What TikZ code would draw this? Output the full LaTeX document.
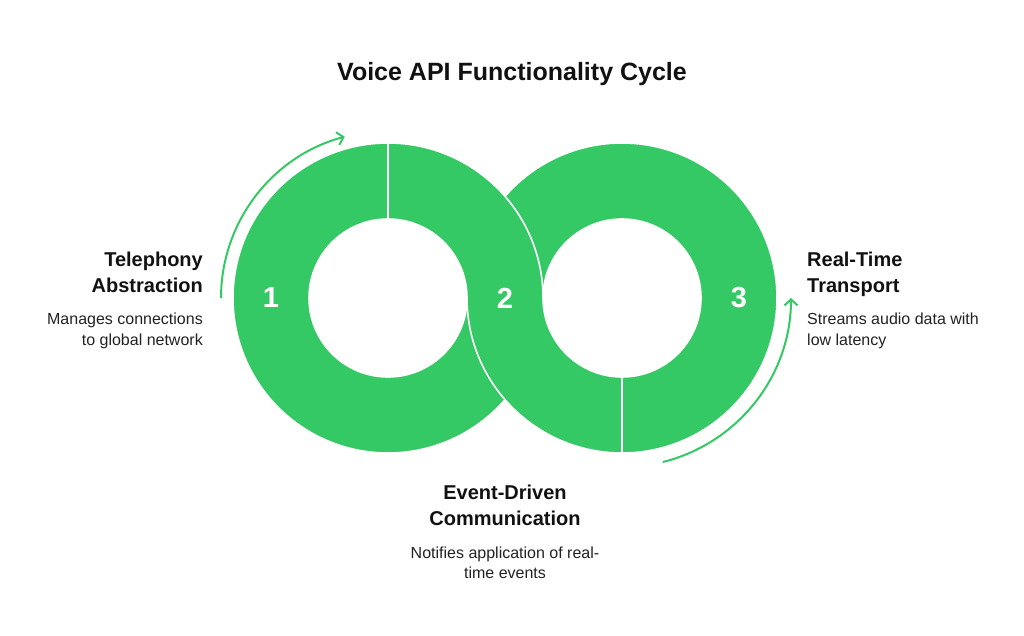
\documentclass[tikz,border=0pt]{standalone}
\usepackage{fontspec}
\setmainfont{Liberation Sans}
\usetikzlibrary{calc,positioning,arrows.meta}
\definecolor{ringgreen}{HTML}{34C964}
\definecolor{headtext}{HTML}{111111}
\definecolor{desctext}{HTML}{222222}

\begin{document}
\begin{tikzpicture}[x=1pt,y=1pt,
  ring/.style={fill=ringgreen,draw=white,line width=1.6pt},
  ringnum/.style={text=white,font=\bfseries\fontsize{29}{29}\selectfont},
  head/.style={text=headtext,font=\bfseries\fontsize{20}{26}\selectfont,inner sep=0pt},
  desc/.style={text=desctext,font=\fontsize{16}{20}\selectfont,inner sep=0pt},
  cyclearrow/.style={draw=ringgreen,line width=2pt,-{Straight Barb[length=6pt,width=13pt]}}]
\useasboundingbox (0,0) rectangle (1024,635);
\coordinate (L) at (388,337);
\coordinate (R) at (622,337);
% rings 1 and 3 first, ring 2 on top
\draw[ring] ($(L)+(0,155)$) arc (90:360:155) -- ++(-76,0) arc (360:90:79) -- cycle;
\draw[ring] ($(R)+(0,-155)$) arc (-90:180:155) -- ++(76,0) arc (180:-90:79) -- cycle;
\draw[ring] ($(L)+(0,155)$) arc (90:0:155) arc (180:270:79) -- ++(0,-76) arc (270:180:155) arc (0:90:79) -- cycle;
\node[ringnum] (n1) at ($(L)+(-117,0)$) {1};
\node[ringnum] (n2) at ($(L)+(117,0)$) {2};
\node[ringnum] (n3) at ($(R)+(117,0)$) {3};
% arrows round the rings
\coordinate (a1) at ($(L)+(-167,0)$);
\draw[cyclearrow] (a1) arc (180:105:167);
\coordinate (a3) at ($(R)+(-76:169)$);
\draw[cyclearrow] (a3) arc (-76:0:169);
% texts (base = last line)
\node[font=\bfseries\fontsize{25}{30}\selectfont,text=headtext,anchor=base] (title) at (512,554) {Voice API Functionality Cycle};
\node[head,align=right,anchor=base east] (head1) at (203,342) {Telephony\\Abstraction};
\node[desc,align=right,anchor=base east] (desc1) at (203,290) {Manages connections\\to global network};
\node[head,align=center,anchor=base] (head2) at (505,110) {Event-Driven\\Communication};
\node[desc,align=center,anchor=base] (desc2) at (505,57) {Notifies application of real-\\time events};
\node[head,align=left,anchor=base west] (head3) at (807,342) {Real-Time\\Transport};
\node[desc,align=left,anchor=base west] (desc3) at (807,290) {Streams audio data with\\low latency};
\end{tikzpicture}
\end{document}
